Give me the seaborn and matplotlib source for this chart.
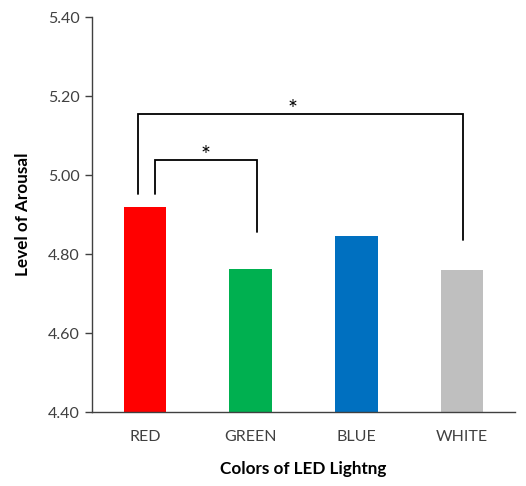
import matplotlib
matplotlib.use("Agg")
import matplotlib.pyplot as plt
import seaborn as sns

categories = ["RED", "GREEN", "BLUE", "WHITE"]
arousal = [4.92, 4.762, 4.847, 4.76]
bar_colors = ["#FF0000", "#00B050", "#0070C0", "#BFBFBF"]
y_ticks = [4.40, 4.60, 4.80, 5.00, 5.20, 5.40]

sns.set_theme(style="white")
plt.rcParams["font.family"] = ["Lato", "DejaVu Sans"]

fig = plt.figure(figsize=(5.26, 4.86), dpi=100)
ax = fig.add_axes([0.175, 0.152, 0.804, 0.813])

sns.barplot(x=categories, y=arousal, hue=categories, palette=bar_colors,
            width=0.4, legend=False, ax=ax, saturation=1, linewidth=0)

ax.set_ylim(4.40, 5.40)
ax.set_yticks(y_ticks)
ax.set_yticklabels([f"{t:.2f}" for t in y_ticks], fontsize=11.5, color="#404040")
ax.tick_params(axis="x", length=0, labelsize=11.5, labelcolor="#404040", pad=13)
ax.tick_params(axis="y", length=5, width=1, color="#404040", direction="out", pad=4, left=True)
ax.set_xlim(-0.5, 3.5)

sns.despine(ax=ax)
for side in ("left", "bottom"):
    ax.spines[side].set_color("#404040")
    ax.spines[side].set_linewidth(1)

ax.set_ylabel("Level of Arousal", fontsize=12.3, fontweight="bold", color="black", labelpad=12)
ax.set_xlabel("Colors of LED Lightng", fontsize=12.3, fontweight="bold", color="black", labelpad=12)

# significance brackets
def bracket(x0, x1, y_top, y0, y1, text_x, text_y):
    ax.plot([x0, x0, x1, x1], [y0, y_top, y_top, y1], color="black", lw=1.3,
            solid_joinstyle="miter")
    ax.text(text_x, text_y, "*", ha="center", va="center", fontsize=17, color="black")

bracket(-0.062, 3.01, 5.154, 4.952, 4.835, 1.40, 5.165)
bracket(0.098, 1.063, 5.038, 4.952, 4.856, 0.57, 5.049)

fig.savefig("out.png", dpi=100)
